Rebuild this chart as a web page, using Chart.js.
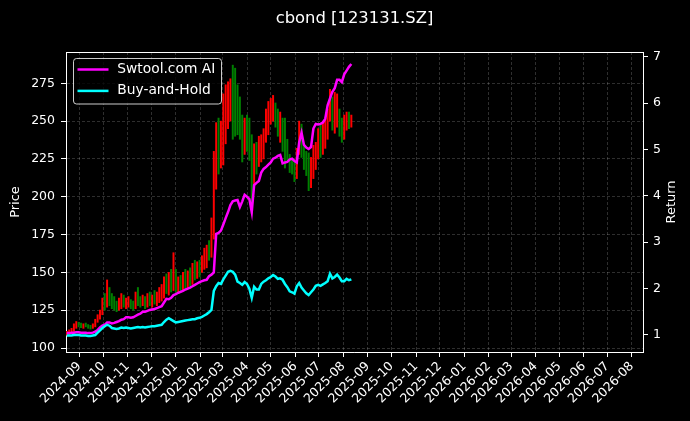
<!DOCTYPE html>
<html>
<head>
<meta charset="utf-8">
<script src="https://cdn.jsdelivr.net/npm/chart.js@4/dist/chart.umd.min.js"></script>
<style>
  html, body { margin: 0; padding: 0; background: #000; }
  canvas { display: block; }
</style>
</head>
<body>
<canvas id="chart" width="690" height="421"></canvas>
<script>
// x axis runs in days counted from 2024-08-15, one point every 3 days from 2024-08-16
const baseDate = Date.UTC(2024, 7, 15);
const firstDay = 1;
const stepDays = 3;

const monthLabels = [
  "2024-09", "2024-10", "2024-11", "2024-12", "2025-01", "2025-02", "2025-03", "2025-04",
  "2025-05", "2025-06", "2025-07", "2025-08", "2025-09", "2025-10", "2025-11", "2025-12",
  "2026-01", "2026-02", "2026-03", "2026-04", "2026-05", "2026-06", "2026-07", "2026-08"
];
const priceTicks = [100, 125, 150, 175, 200, 225, 250, 275];
const returnTicks = [1, 2, 3, 4, 5, 6, 7];

const lows = [
  108.5, 109, 109.5, 111, 113, 114, 113.5, 113, 114, 113, 112.5, 113, 114, 117, 119, 122, 125, 127, 128, 126,
  125, 124, 125, 126, 127, 126, 127, 126, 125, 126, 128, 127, 128, 126, 127, 128, 127, 129, 128, 130,
  131, 133, 136, 135, 137, 138, 137, 136, 137, 138, 139, 140, 141, 142, 145, 146, 147, 150, 152, 153,
  158, 160, 172, 205, 215, 219, 221, 235, 245, 250, 238, 240, 241, 238, 223, 228, 230, 224, 189, 208,
  215, 220, 223, 225, 236, 241, 248, 250, 246, 240, 236, 230, 219, 224, 216, 215, 210, 212, 228, 226,
  218, 214, 204, 206, 212, 218, 225, 226, 228, 232, 238, 250, 244, 242, 246, 240, 236, 238, 244, 245,
  246
];
const highs = [
  111, 112, 113, 116, 117.5, 117, 116.5, 116, 116.5, 115.5, 115, 116, 119, 122, 125, 133, 136, 145, 140, 136,
  134, 131, 133, 136, 135, 133, 134, 132, 131, 137, 140, 134, 135, 134, 136, 137, 135, 138, 137, 140,
  142, 147, 149, 150, 152, 163, 152, 147, 148, 150, 152, 151, 153, 156, 158, 157, 158, 161, 166, 168,
  171, 186, 230, 249, 252, 250, 268, 274, 276, 278, 287, 285, 274, 266, 254, 252, 254, 252, 241, 235,
  236, 240, 241, 245, 258, 263, 265, 267, 262, 258, 256, 252, 252, 238, 228, 225, 223, 232, 250, 248,
  234, 230, 229, 226, 234, 236, 245, 248, 250, 252, 258, 271, 266, 269, 268, 258, 252, 254, 256, 256,
  254
];
const closes = [
  110, 111, 112, 115, 116, 115, 114.5, 115.5, 115, 114, 113.5, 115, 118, 121, 124, 130, 128, 138, 132, 130,
  128, 127, 130, 133, 129, 131, 132, 128, 127, 134, 131, 129, 133, 128, 133, 131, 134, 132, 135, 137,
  139, 144, 141, 146, 140, 150, 141, 143, 139, 146, 144, 147, 145, 151, 149, 154, 150, 157, 158, 165,
  163, 172, 218, 232, 228, 236, 250, 258, 266, 268, 264, 258, 246, 242, 236, 240, 236, 228, 202, 228,
  222, 224, 236, 240, 244, 248, 252, 256, 253, 248, 248, 245, 235, 228, 218, 216, 213, 229, 238, 227,
  220, 214, 208, 216, 222, 232, 234, 232, 236, 240, 243, 260, 249, 252, 258, 250, 242, 242, 248, 245,
  250
];
const aiReturn = [
  1.04, 1.04, 1.05, 1.05, 1.06, 1.06, 1.05, 1.05, 1.05, 1.04, 1.04, 1.05, 1.07, 1.11, 1.16, 1.20, 1.22, 1.27, 1.27, 1.25,
  1.26, 1.28, 1.30, 1.33, 1.34, 1.38, 1.38, 1.37, 1.38, 1.41, 1.44, 1.46, 1.50, 1.50, 1.52, 1.54, 1.55, 1.56, 1.58, 1.60,
  1.62, 1.70, 1.78, 1.77, 1.80, 1.86, 1.88, 1.91, 1.93, 1.95, 1.98, 2.00, 2.02, 2.05, 2.08, 2.11, 2.14, 2.16, 2.18, 2.19,
  2.27, 2.30, 2.35, 3.18, 3.20, 3.25, 3.38, 3.52, 3.65, 3.80, 3.88, 3.90, 3.91, 3.76, 3.88, 4.02, 3.98, 3.93, 3.65, 4.23,
  4.28, 4.32, 4.50, 4.58, 4.62, 4.67, 4.72, 4.80, 4.82, 4.86, 4.88, 4.70, 4.72, 4.73, 4.78, 4.80, 4.75, 4.72, 5.15, 5.36,
  5.10, 5.04, 5.01, 5.05, 5.45, 5.55, 5.54, 5.55, 5.58, 5.66, 5.95, 6.10, 6.24, 6.32, 6.50, 6.50, 6.45, 6.62, 6.70, 6.78,
  6.84
];
const holdReturn = [
  0.99, 0.99, 0.99, 1.00, 1.00, 1.00, 0.99, 0.99, 0.99, 0.98, 0.98, 0.99, 1.00, 1.05, 1.10, 1.15, 1.19, 1.22, 1.20, 1.15,
  1.14, 1.13, 1.14, 1.16, 1.15, 1.16, 1.15, 1.14, 1.15, 1.16, 1.17, 1.16, 1.17, 1.16, 1.17, 1.18, 1.19, 1.19, 1.20, 1.21,
  1.22, 1.28, 1.33, 1.36, 1.33, 1.30, 1.27, 1.28, 1.29, 1.30, 1.31, 1.32, 1.33, 1.34, 1.34, 1.36, 1.37, 1.39, 1.42, 1.45,
  1.49, 1.54, 1.95, 2.05, 2.12, 2.10, 2.20, 2.28, 2.36, 2.38, 2.36, 2.30, 2.15, 2.12, 2.08, 2.14, 2.10, 2.00, 1.80, 2.04,
  1.98, 1.98, 2.10, 2.15, 2.18, 2.22, 2.25, 2.29, 2.26, 2.21, 2.22, 2.19, 2.10, 2.03, 1.94, 1.92, 1.89, 2.05, 2.12, 2.02,
  1.96, 1.90, 1.86, 1.92, 1.98, 2.06, 2.08, 2.06, 2.09, 2.12, 2.16, 2.32, 2.22, 2.25, 2.30, 2.24, 2.16, 2.16, 2.21, 2.18,
  2.20
];

const DAY = 86400000;
const dayOffsets = closes.map((_, i) => firstDay + stepDays * i);
const monthDays = monthLabels.map(s => (Date.UTC(+s.slice(0, 4), +s.slice(5, 7) - 1, 1) - baseDate) / DAY);

const upColor = "#ff0000";
const downColor = "#008000";
const candleColors = closes.map((c, i) => (i === 0 || c >= closes[i - 1]) ? upColor : downColor);

const FONT = "DejaVu Sans";
const gridColor = "rgba(255,255,255,0.3)";

const chrome = {
  id: "chrome",
  beforeDraw(chart) {
    const ctx = chart.ctx;
    ctx.save();
    ctx.fillStyle = "#000";
    ctx.fillRect(0, 0, chart.width, chart.height);
    ctx.restore();
  },
  afterDraw(chart) {
    const ctx = chart.ctx;
    const a = chart.chartArea;
    ctx.save();
    // top spine
    ctx.strokeStyle = "#fff";
    ctx.lineWidth = 1;
    ctx.beginPath();
    ctx.moveTo(a.left, Math.round(a.top) + 0.5);
    ctx.lineTo(a.right, Math.round(a.top) + 0.5);
    ctx.stroke();

    ctx.fillStyle = "#fff";
    ctx.textAlign = "center";
    ctx.textBaseline = "middle";
    ctx.font = "16.4px '" + FONT + "'";
    ctx.fillText("cbond [123131.SZ]", (a.left + a.right) / 2, 19);

    const midY = (a.top + a.bottom) / 2;
    ctx.font = "13px '" + FONT + "'";
    ctx.save();
    ctx.translate(16, midY);
    ctx.rotate(-Math.PI / 2);
    ctx.fillText("Price", 0, 0);
    ctx.restore();
    ctx.save();
    ctx.translate(672, midY);
    ctx.rotate(-Math.PI / 2);
    ctx.fillText("Return", 0, 0);
    ctx.restore();

    // legend
    const lx = 73.5, ly = 58.5, lw = 148, lh = 45.5, r = 3;
    ctx.fillStyle = "rgba(0,0,0,0.8)";
    ctx.strokeStyle = "rgba(255,255,255,0.8)";
    ctx.lineWidth = 1;
    ctx.beginPath();
    ctx.roundRect(lx, ly, lw, lh, r);
    ctx.fill();
    ctx.stroke();
    const items = chart.data.datasets.filter(d => d.type === "line");
    items.forEach((d, k) => {
      const y = 69.5 + k * 21.4;
      ctx.strokeStyle = d.borderColor;
      ctx.lineWidth = 2.5;
      ctx.beginPath();
      ctx.moveTo(77.5, y);
      ctx.lineTo(108.5, y);
      ctx.stroke();
      ctx.fillStyle = "#fff";
      ctx.textAlign = "left";
      ctx.font = "13.8px '" + FONT + "'";
      ctx.fillText(d.label, 117.3, y);
    });
    ctx.restore();
  }
};

new Chart(document.getElementById("chart"), {
  type: "bar",
  data: {
    datasets: [
      {
        type: "line",
        label: "Swtool.com AI",
        data: dayOffsets.map((d, i) => ({ x: d, y: aiReturn[i] })),
        yAxisID: "y2",
        borderColor: "#ff00ff",
        borderWidth: 2.5,
        pointRadius: 0,
        tension: 0,
        order: 2
      },
      {
        type: "line",
        label: "Buy-and-Hold",
        data: dayOffsets.map((d, i) => ({ x: d, y: holdReturn[i] })),
        yAxisID: "y2",
        borderColor: "#00ffff",
        borderWidth: 2.5,
        pointRadius: 0,
        tension: 0,
        order: 1
      },
      {
        type: "bar",
        label: "cbond",
        data: dayOffsets.map((d, i) => ({ x: d, y: [lows[i], highs[i]] })),
        yAxisID: "y",
        backgroundColor: candleColors,
        borderWidth: 0,
        barThickness: 1.3,
        grouped: false,
        order: 3
      }
    ]
  },
  options: {
    responsive: false,
    devicePixelRatio: 1,
    animation: false,
    layout: { padding: { top: 52, left: 0, right: 0, bottom: 0 } },
    plugins: {
      legend: { display: false },
      title: { display: false },
      tooltip: { enabled: false }
    },
    scales: {
      x: {
        type: "linear",
        min: 0,
        max: 730,
        offset: false,
        afterBuildTicks: s => { s.ticks = monthDays.map(v => ({ value: v })); },
        afterFit: s => { s.height = 69; },
        ticks: {
          autoSkip: false,
          maxRotation: 45,
          minRotation: 45,
          color: "#fff",
          padding: 2,
          font: { family: FONT, size: 12.5 },
          callback: (v, i) => monthLabels[i]
        },
        grid: { offset: false, color: gridColor, lineWidth: 0.6, tickColor: "#fff", tickLength: 5, tickWidth: 1 },
        border: { color: "#fff", width: 1, dash: [3, 2] }
      },
      y: {
        position: "left",
        min: 97.36,
        max: 295.7,
        afterBuildTicks: s => { s.ticks = priceTicks.map(v => ({ value: v })); },
        afterFit: s => { s.width = 66; },
        ticks: { color: "#fff", padding: 6, font: { family: FONT, size: 12.5 }, callback: v => String(v) },
        grid: { color: gridColor, lineWidth: 0.6, tickColor: "#fff", tickLength: 5, tickWidth: 1 },
        border: { color: "#fff", width: 1, dash: [3, 2] }
      },
      y2: {
        position: "right",
        min: 0.633,
        max: 7.10,
        afterBuildTicks: s => { s.ticks = returnTicks.map(v => ({ value: v })); },
        afterFit: s => { s.width = 47; },
        ticks: { color: "#fff", padding: 5, font: { family: FONT, size: 12.5 }, callback: v => String(v) },
        grid: { drawOnChartArea: false, tickColor: "#fff", tickLength: 5, tickWidth: 1 },
        border: { color: "#fff", width: 1 }
      }
    }
  },
  plugins: [chrome]
});
</script>
</body>
</html>
